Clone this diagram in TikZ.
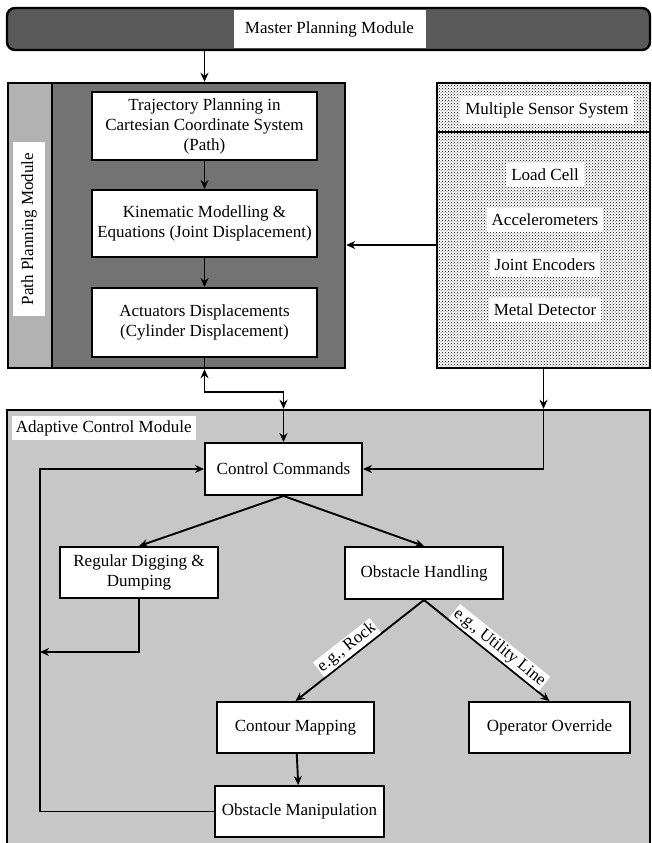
\documentclass[tikz,border=0pt]{standalone}
\usepackage{fontspec}
\setmainfont{Liberation Serif}
\usetikzlibrary{patterns,arrows.meta}
\begin{document}
\begin{tikzpicture}[x=1pt,y=-1pt,>={Stealth[length=9pt,width=8pt]},line width=1.9pt,font=\fontsize{17}{20}\selectfont,
    module/.style={draw,line width=2.4pt,inner sep=0pt},
    box/.style={draw,fill=white,align=center,inner sep=0pt},
    tag/.style={fill=white,inner xsep=5pt,inner ysep=6pt},
    lbl/.style={fill=white,inner sep=1.5pt,sloped,above,pos=0.55}]
    \useasboundingbox(0,0)rectangle(652,843);
    % modules
    \node[module,rounded corners=8pt,fill=black!65,minimum width=643,minimum height=42](bar)at(328.5,29){};
    \node[fill=white,minimum width=192,minimum height=38](master)at(329.5,29){Master Planning Module};
    \node[module,fill=black!55,minimum width=337,minimum height=285](pathmod)at(176.5,225.5){};
    \node[module,fill=black!30,minimum width=44,minimum height=285](strip)at(30,225.5){};
    \node[fill=white,rotate=90,inner xsep=11pt,inner ysep=8pt](pathlbl)at(29,229){Path Planning Module};
    \node[module,fill=white,postaction={pattern=crosshatch dots,pattern color=black},minimum width=213,minimum height=285](sensor)at(543.5,225.5){};
    \draw[line width=2.4pt](sensor.west|-0,132)--(sensor.east|-0,132);
    \node[tag](senshead)at(547,110){Multiple Sensor System};
    \foreach \t[count=\i] in {Load Cell,Accelerometers,Joint Encoders,Metal Detector}
        \node[tag](s\i)at(545,130+45*\i){\t};
    \node[module,fill=black!22,minimum width=643,minimum height=440](adapt)at(328.5,630){};
    \node[fill=white,anchor=west,inner sep=4pt](adaptlbl)at(11,428){Adaptive Control Module};
    % boxes
    \node[box,minimum width=225,minimum height=68](traj)at(204.5,126){Trajectory Planning in\\Cartesian Coordinate System\\(Path)};
    \node[box,minimum width=225,minimum height=67](kin)at(204.5,223.5){Kinematic Modelling \&\\Equations (Joint Displacement)};
    \node[box,minimum width=225,minimum height=69](act)at(204.5,322.5){Actuators Displacements\\(Cylinder Displacement)};
    \node[box,minimum width=157,minimum height=52](cc)at(283.5,469){Control Commands};
    \node[box,minimum width=158,minimum height=51](reg)at(139,572.5){Regular Digging \&\\Dumping};
    \node[box,minimum width=158,minimum height=52](obs)at(424,573){Obstacle Handling};
    \node[box,minimum width=157,minimum height=51](cm)at(295.5,727.5){Contour Mapping};
    \node[box,minimum width=161,minimum height=51](oo)at(549.5,727.5){Operator Override};
    \node[box,minimum width=169,minimum height=51](om)at(299.5,811.5){Obstacle Manipulation};
    \coordinate(rail)at(40,0);
    % connectors
    \draw[->](traj.north|-bar.south)--(traj.north|-pathmod.north);
    \draw[->](traj)--(kin);
    \draw[->](kin)--(act);
    \draw[->](sensor.west|-0,245)--(pathmod.east|-0,245);
    \draw(act)--(act|-pathmod.south);
    \draw[<->](act|-pathmod.south)|-(cc|-0,392)--(cc|-adapt.north);
    \draw[->](cc|-adapt.north)--(cc);
    \draw[->](sensor)--(sensor|-adapt.north);
    \draw[->](sensor|-adapt.north)|-(cc.east);
    \draw[->](cc.south)--(reg.north);
    \draw[->](cc.south)--(obs.north);
    \draw[->](reg.south)--(reg.south|-0,652)--(rail|-0,652);
    \draw[->](om.west)--(rail|-om.west)--(rail|-cc.west)--(cc.west);
    \draw[->](obs.south)--node[lbl]{e.g., Rock}(cm.north);
    \draw[->](obs.south)--node[lbl]{e.g., Utility Line}(oo.north);
    \draw[->](cm)--(om);
\end{tikzpicture}
\end{document}
